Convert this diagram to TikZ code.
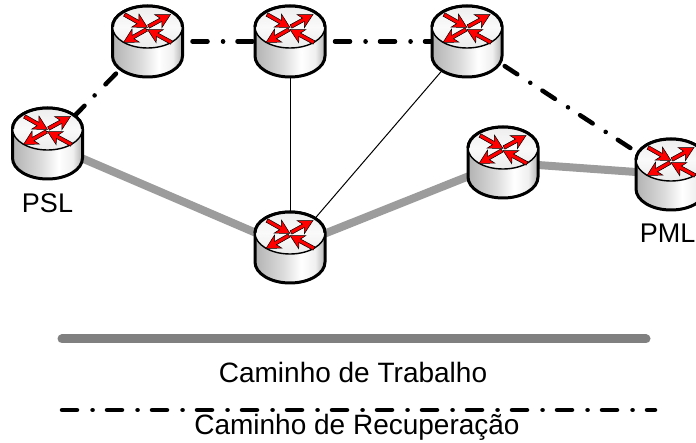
\documentclass[tikz,border=0pt]{standalone}
\usepackage{fontspec}
\setmainfont{Liberation Sans}
\usetikzlibrary{calc}
\definecolor{workgray}{HTML}{9C9C9C}
\definecolor{legendgray}{HTML}{808080}
\definecolor{arrowred}{HTML}{FF0000}
\pgfdeclarehorizontalshading{bodyshade}{100bp}{
  color(0bp)=(black!30); color(25bp)=(black!30); color(45bp)=(black!14);
  color(58bp)=(white); color(68bp)=(black!6); color(75bp)=(black!30); color(100bp)=(black!30)}
\pgfdeclareverticalshading{topshade}{100bp}{
  color(0bp)=(black!8); color(25bp)=(black!8); color(50bp)=(black!2);
  color(75bp)=(black!7); color(100bp)=(black!7)}
\newcommand{\redarrow}[4]{%
  \pgfmathsetmacro{\ang}{atan2(#2-#4,#3-#1)}%
  \pgfmathsetmacro{\len}{veclen(#3-#1,#4-#2)}%
  \begin{scope}[shift={(#1,#2)},rotate=\ang]
    \filldraw[fill=arrowred,draw=black,line width=0.5pt,line join=miter]
      (0,-1.9) -- (\len-11,-1.9) -- (\len-14,-7.5) -- (\len,0) -- (\len-14,7.5) -- (\len-11,1.9) -- (0,1.9) -- cycle;
  \end{scope}}
\tikzset{
  x=1pt,y=-1pt,
  routerbox/.style={minimum size=71pt,inner sep=0pt,draw=none},
  worklink/.style={draw=workgray,line width=8pt},
  thinlink/.style={draw=black,line width=1pt},
  backuplink/.style={draw=black,line width=4.5pt,line cap=round,dash pattern=on 15pt off 15.5pt on 0.1pt off 14.4pt},
  legendwork/.style={draw=legendgray,line width=9pt,line cap=round},
  legendbackup/.style={draw=black,line width=4.5pt,line cap=round,dash pattern=on 15pt off 15.5pt on 0.1pt off 14.4pt},
  lbl/.style={inner sep=0pt,font=\fontsize{27}{30}\selectfont},
  lblbig/.style={inner sep=0pt,font=\fontsize{28}{30}\selectfont},
  router/.pic={
    \path[shading=bodyshade,draw=black,line width=3pt]
      (-35,-14.5) -- (-35,14.5) arc[start angle=180,end angle=0,x radius=35,y radius=21] -- (35,-14.5)
      arc[start angle=0,end angle=-180,x radius=35,y radius=21] -- cycle;
    \path[shading=topshade,draw=black,line width=1.4pt]
      (0,-14.5) ellipse[x radius=35,y radius=21];
    \draw[black,line width=3pt] (-35,-14.5) arc[start angle=180,end angle=360,x radius=35,y radius=21];
    \redarrow{-23}{-27}{0}{-14}
    \redarrow{1}{-15}{23}{-27}
    \redarrow{24}{1}{0}{-12}
    \redarrow{-1}{-12}{-24}{1}
  }
}
\begin{document}
\begin{tikzpicture}
\useasboundingbox (0,0) rectangle (696,443);
\clip (0,0) rectangle (696,443);
\node[routerbox] (psl) at (47.5,143.5) {};
\node[routerbox] (r1) at (147.5,41.5) {};
\node[routerbox] (r2) at (290,41.5) {};
\node[routerbox] (r3) at (467,41.5) {};
\node[routerbox] (bot) at (290,247.5) {};
\node[routerbox] (mid) at (503,162.5) {};
\node[routerbox] (pml) at (671,174.5) {};
\draw[worklink] (psl.center) -- (bot.center);
\draw[worklink] (bot.center) -- (mid.center);
\draw[worklink] (mid.center) -- (pml.center);
\draw[thinlink] (r2.center) -- (bot.center);
\draw[thinlink] (r3.center) -- (bot.center);
\draw[backuplink] (r1.center) -- (psl.center);
\draw[backuplink] (r1.center) -- (r2.center);
\draw[backuplink] (r2.center) -- (r3.center);
\draw[backuplink] (r3.center) -- (pml.center);
\foreach \n in {psl,r1,r2,r3,bot,mid,pml} \pic at (\n.center) {router};
\node[lbl] (lpsl) at (47.5,203.5) {PSL};
\node[lbl,anchor=east] (lpml) at (695.5,233.5) {PML};
\coordinate (wa) at (62,339);
\coordinate (wb) at (646,339);
\coordinate (ba) at (62,410);
\coordinate (bb) at (655,410);
\draw[legendwork] (wa) -- (wb);
\node[lblbig] (lw) at (353,372) {Caminho de Trabalho};
\draw[legendbackup] (ba) -- (bb);
\node[lblbig] (lb) at (357,427.5) {Caminho de Recuperação};
\end{tikzpicture}
\end{document}
